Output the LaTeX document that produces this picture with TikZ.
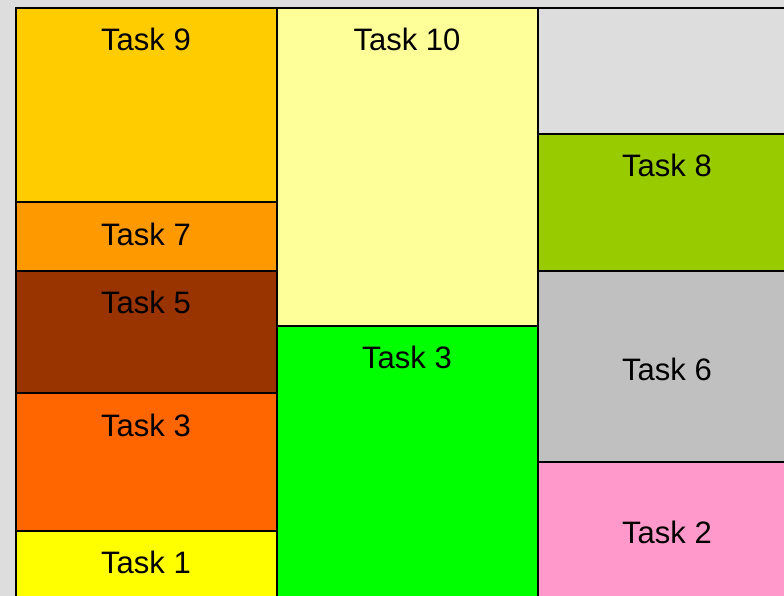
\documentclass[tikz,border=0pt]{standalone}
\usepackage{fontspec}
\setmainfont{Liberation Sans}
\definecolor{bgc}{HTML}{DDDDDD}
\definecolor{cnine}{HTML}{FFCC00}
\definecolor{cseven}{HTML}{FF9900}
\definecolor{cfive}{HTML}{993300}
\definecolor{cthreea}{HTML}{FF6600}
\definecolor{cone}{HTML}{FFFF00}
\definecolor{cten}{HTML}{FFFF99}
\definecolor{cthreeb}{HTML}{00FF00}
\definecolor{cempty}{HTML}{DDDDDD}
\definecolor{ceight}{HTML}{99CC00}
\definecolor{csix}{HTML}{C0C0C0}
\definecolor{ctwo}{HTML}{FF99CC}
\begin{document}
\begin{tikzpicture}[x=1pt,y=-1pt,
  cell/.style={draw=black,line width=2.5pt},
  lbl/.style={font=\fontsize{31}{37}\selectfont, anchor=base, inner sep=0pt, text=black}]
\useasboundingbox (0,0) rectangle (784,596);
\fill[bgc] (0,0) rectangle (784,596);
\begin{scope}
\clip (0,0) rectangle (784,596);
% column 1
\draw[cell,fill=cnine]   (16,8)   rectangle (277,202);
\draw[cell,fill=cseven]  (16,202) rectangle (277,271);
\draw[cell,fill=cfive]   (16,271) rectangle (277,393);
\draw[cell,fill=cthreea] (16,393) rectangle (277,531);
\draw[cell,fill=cone]    (16,531) rectangle (277,620);
% column 2
\draw[cell,fill=cten]    (277,8)   rectangle (538,326);
\draw[cell,fill=cthreeb] (277,326) rectangle (538,620);
% column 3
\draw[cell,fill=cempty]  (538,8)   rectangle (800,134);
\draw[cell,fill=ceight]  (538,134) rectangle (800,271);
\draw[cell,fill=csix]    (538,271) rectangle (800,462);
\draw[cell,fill=ctwo]    (538,462) rectangle (800,620);
\end{scope}
% labels
\node[lbl] (l9)  at (146,51)  {Task 9};
\node[lbl] (l7)  at (146,245) {Task 7};
\node[lbl] (l5)  at (146,313) {Task 5};
\node[lbl] (l3a) at (146,436) {Task 3};
\node[lbl] (l1)  at (146,573) {Task 1};
\node[lbl] (l10) at (407,51)  {Task 10};
\node[lbl] (l3b) at (407,368) {Task 3};
\node[lbl] (l8)  at (667,177) {Task 8};
\node[lbl] (l6)  at (667,380) {Task 6};
\node[lbl] (l2)  at (667,543) {Task 2};
\end{tikzpicture}
\end{document}
